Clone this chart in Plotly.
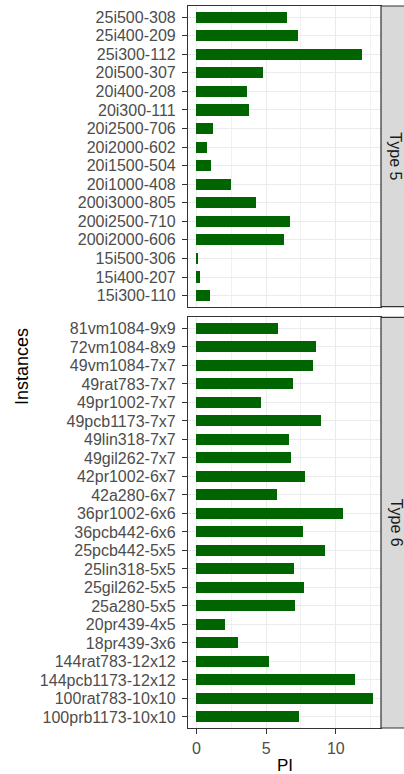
import plotly.graph_objects as go

# Type 5 panel (listed top to bottom as drawn)
type5_labels = ["25i500-308", "25i400-209", "25i300-112", "20i500-307", "20i400-208",
                "20i300-111", "20i2500-706", "20i2000-602", "20i1500-504", "20i1000-408",
                "200i3000-805", "200i2500-710", "200i2000-606", "15i500-306", "15i400-207",
                "15i300-110"]
type5_values = [6.48, 7.31, 11.9, 4.81, 3.62, 3.74, 1.19, 0.76, 1.05, 2.5,
                4.26, 6.69, 6.31, 0.05, 0.29, 0.98]

# Type 6 panel (listed top to bottom as drawn)
type6_labels = ["81vm1084-9x9", "72vm1084-8x9", "49vm1084-7x7", "49rat783-7x7", "49pr1002-7x7",
                "49pcb1173-7x7", "49lin318-7x7", "49gil262-7x7", "42pr1002-6x7", "42a280-6x7",
                "36pr1002-6x6", "36pcb442-6x6", "25pcb442-5x5", "25lin318-5x5", "25gil262-5x5",
                "25a280-5x5", "20pr439-4x5", "18pr439-3x6", "144rat783-12x12", "144pcb1173-12x12",
                "100rat783-10x10", "100prb1173-10x10"]
type6_values = [5.83, 8.55, 8.33, 6.90, 4.62, 8.93, 6.62, 6.79, 7.81, 5.79,
                10.55, 7.62, 9.24, 7.0, 7.69, 7.07, 2.07, 2.98, 5.19, 11.36,
                12.64, 7.36]

facet_names = ["Type 5", "Type 6"]
x_ticks = [0, 5, 10]
x_title = "PI"
y_title = "Instances"

W, H = 404, 774
ML, MR, MT, MB = 188, 23, 6, 46
plot_h = H - MT - MB
top_bottom_px = 306.7
bot_top_px = 317.3

def py(p):
    return (H - MB - p) / plot_h

def px(p):
    return (p - ML) / (W - ML - MR)

FONT = "Liberation Sans, Arial, sans-serif"
BAR = "#006400"
GRID = "#EBEBEB"
BORDER = "#333333"

fig = go.Figure()
fig.add_trace(go.Bar(x=type5_values, y=type5_labels, orientation="h", width=0.6,
                     marker=dict(color=BAR, line=dict(width=0)), xaxis="x2", yaxis="y2",
                     showlegend=False))
fig.add_trace(go.Bar(x=type6_values, y=type6_labels, orientation="h", width=0.6,
                     marker=dict(color=BAR, line=dict(width=0)), xaxis="x", yaxis="y",
                     showlegend=False))

xr = [-0.6, 13.24]
common_x = dict(range=xr, showgrid=True, gridcolor=GRID, gridwidth=1.3,
                minor=dict(tick0=2.5, dtick=5, showgrid=True, gridcolor="#F1F1F1", gridwidth=1),
                zeroline=False, showline=True, mirror=True, linecolor=BORDER, linewidth=1.2,
                tickvals=x_ticks, fixedrange=True)
common_y = dict(type="category", categoryorder="array", showgrid=True, gridcolor=GRID,
                gridwidth=1.3, zeroline=False, showline=True, mirror=True, linecolor=BORDER,
                linewidth=1.2, ticks="outside", ticklen=5, tickwidth=1.1, tickcolor=BORDER,
                tickmode="linear", tick0=0, dtick=1, automargin=False, fixedrange=True,
                tickfont=dict(family=FONT, size=16, color="#4D4D4D"), ticklabelstandoff=3)

fig.update_layout(
    width=W, height=H, margin=dict(l=ML, r=MR, t=MT, b=MB),
    paper_bgcolor="white", plot_bgcolor="white", bargap=0,
    xaxis=dict(**common_x, anchor="y", domain=[0, 1], ticks="outside", ticklen=5,
               tickwidth=1.1, tickcolor=BORDER, ticklabelstandoff=1,
               tickfont=dict(family=FONT, size=16, color="#4D4D4D")),
    xaxis2=dict(**common_x, anchor="y2", domain=[0, 1], showticklabels=False, ticks=""),
    yaxis=dict(**common_y, anchor="x", domain=[0, py(bot_top_px)],
               categoryarray=type6_labels[::-1], range=[-0.6, len(type6_labels) - 0.4]),
    yaxis2=dict(**common_y, anchor="x2", domain=[py(top_bottom_px), 1],
                categoryarray=type5_labels[::-1], range=[-0.6, len(type5_labels) - 0.4]),
)

# facet strips
strips = [(py(MT), py(top_bottom_px), facet_names[0]), (py(bot_top_px), 0, facet_names[1])]
for y1, y0, name in strips:
    fig.add_shape(type="rect", xref="paper", yref="paper", x0=1.0, x1=1.17, y0=y0, y1=y1,
                  fillcolor="#D9D9D9", line=dict(color=BORDER, width=1.2), layer="above")
    fig.add_annotation(text=name, xref="paper", yref="paper", x=px(396), y=(y0 + y1) / 2,
                       textangle=90, showarrow=False, xanchor="center", yanchor="middle",
                       font=dict(family=FONT, size=16, color="#1A1A1A"))

fig.add_annotation(text=x_title, xref="paper", yref="paper", x=0.5, y=py(765),
                   showarrow=False, xanchor="center", yanchor="middle",
                   font=dict(family=FONT, size=17, color="black"))
fig.add_annotation(text=y_title, xref="paper", yref="paper", x=px(22), y=py(367),
                   textangle=-90, showarrow=False, xanchor="center", yanchor="middle",
                   font=dict(family=FONT, size=18, color="black"))

fig.write_html("out.html", config={"displayModeBar": False},
               post_script="document.body.style.margin='0px';")
